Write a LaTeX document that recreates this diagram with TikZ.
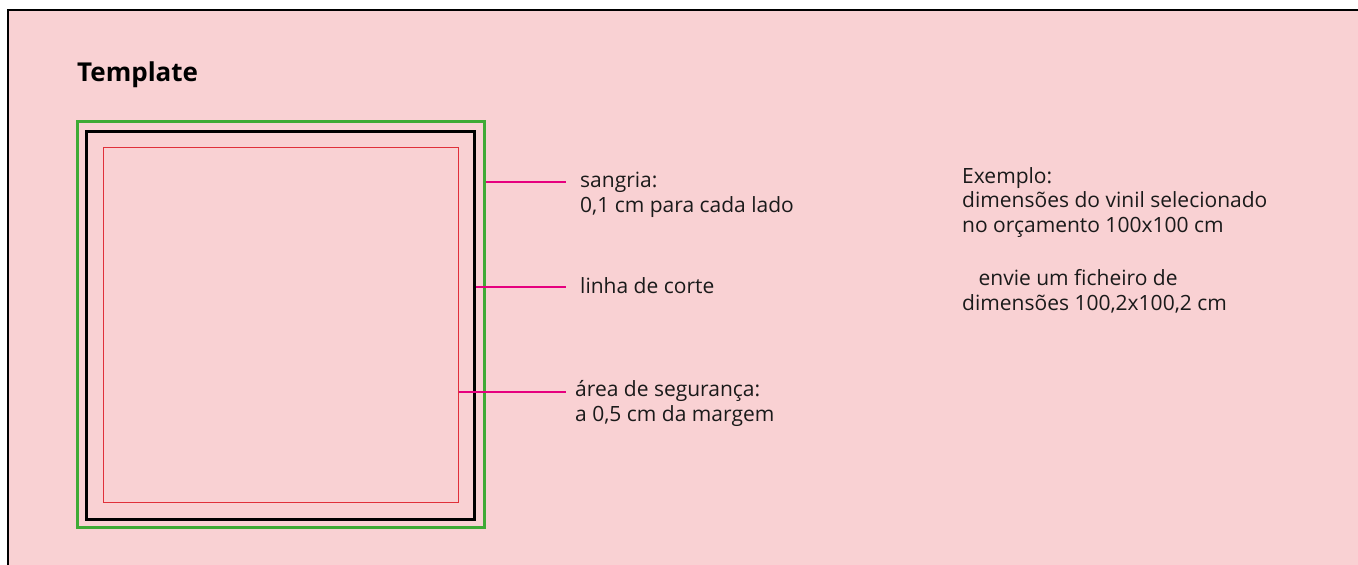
\documentclass[tikz,border=0pt]{standalone}
\usepackage{fontspec}
\setmainfont{Open Sans}
\definecolor{bgpink}{HTML}{F9D1D3}
\definecolor{bleedgreen}{HTML}{3FAA35}
\definecolor{safered}{HTML}{E0303A}
\definecolor{leadmag}{HTML}{E6007E}
\definecolor{txt}{HTML}{1A1A1A}
\begin{document}
\begin{tikzpicture}[x=1pt,y=-1pt,
  frame/.style={draw,rectangle,inner sep=0pt,outer sep=0pt},
  leader/.style={draw=leadmag,line width=2pt},
  lbl/.style={anchor=base west,inner sep=0pt,text=txt,align=left,font=\fontsize{21}{24.5}\selectfont}]
\useasboundingbox (0,0) rectangle (1358,565);
\fill[bgpink,draw=black,line width=1.5pt] (8,10) rectangle (1370,580);
\node[anchor=base west,inner sep=0pt,text=black,font=\fontsize{26}{30}\selectfont\bfseries] (title) at (77,81) {Template};
\node[frame,draw=bleedgreen,line width=3pt,minimum width=407pt,minimum height=406pt,outer sep=1.5pt] (bleed) at (280.5,324) {};
\node[frame,draw=black,line width=3pt,minimum width=388pt,minimum height=388pt,outer sep=1.5pt] (cut) at (280,325) {};
\node[frame,draw=safered,line width=1pt,minimum width=355pt,minimum height=355pt,outer sep=0.5pt] (safe) at (280.5,324.5) {};
\node[lbl] (tsangria) at (580,212) {sangria:\\0,1 cm para cada lado};
\node[lbl] (tcorte) at (580,293) {linha de corte};
\node[lbl] (tseg) at (575,421) {área de segurança:\\a 0,5 cm da margem};
\node[lbl] (texemplo) at (962,310) {Exemplo:\\dimensões do vinil selecionado\\no orçamento 100x100 cm\\[29pt]\ \ \ envie um ficheiro de\\dimensões 100,2x100,2 cm};
\coordinate (e1) at (566,182);
\coordinate (e2) at (566,287);
\coordinate (e3) at (566,392);
\draw[leader] (bleed.east |- e1) -- (e1);
\draw[leader] (cut.east |- e2) -- (e2);
\draw[leader] (safe.east |- e3) -- (e3);
\end{tikzpicture}
\end{document}
